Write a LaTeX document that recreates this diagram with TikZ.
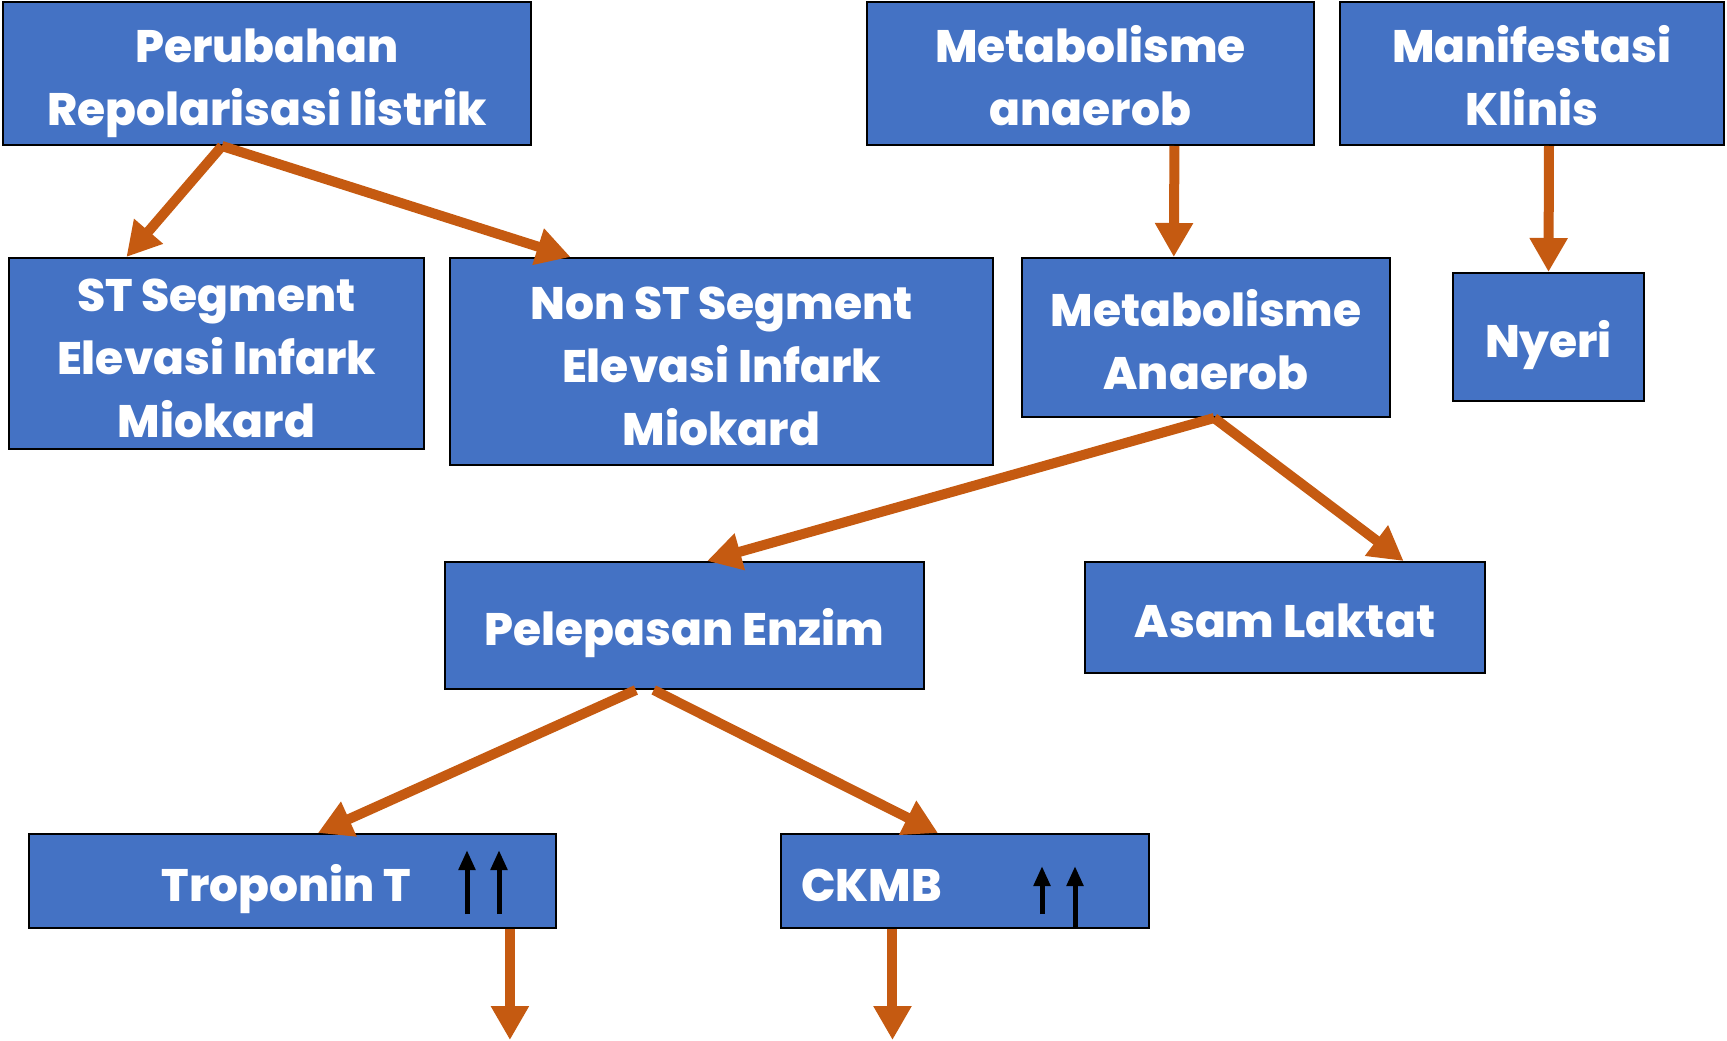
\documentclass[tikz,border=0pt]{standalone}
\usepackage{fontspec}
\setmainfont{Poppins}[BoldFont={Poppins ExtraBold}]
\usetikzlibrary{arrows.meta,calc}
\definecolor{boxblue}{HTML}{4472C4}
\definecolor{arrorange}{HTML}{C55A11}
\newcommand{\boxlines}[1]{\raisebox{-8pt}[\height][\depth]{\begin{tabular}{@{}c@{}}#1\end{tabular}}}
\begin{document}
\begin{tikzpicture}[x=1pt,y=-1pt,
  box/.style={draw=black, line width=2pt, fill=boxblue, text=white,
    font=\bfseries\fontsize{45.5}{63}\selectfont, align=center, inner sep=0pt,
    execute at begin node={\rule{0pt}{55pt}},
    execute at end node={\rule[-15pt]{0pt}{15pt}}},
  flow/.style={draw=arrorange, line width=10pt, -{Triangle[width=36pt,length=34pt]}},
  uparr/.style={draw=black, line width=5pt, -{Triangle[width=16pt,length=20pt]}}]
\useasboundingbox (0,0) rectangle (1727,1041);
\node[box, minimum width=528, minimum height=143] (A) at (267,73.5) {\boxlines{Perubahan\\Repolarisasi listrik}};
\node[box, minimum width=447, minimum height=143] (B) at (1090.5,73.5) {\boxlines{Metabolisme\\anaerob}};
\node[box, minimum width=384, minimum height=143] (C) at (1532,73.5) {\boxlines{Manifestasi\\Klinis}};
\node[box, minimum width=415, minimum height=191] (D) at (216.5,353.5) {\boxlines{ST Segment\\Elevasi Infark\\Miokard}};
\node[box, minimum width=543, minimum height=207] (E) at (721.5,361.5) {\boxlines{Non ST Segment\\Elevasi Infark\\Miokard}};
\node[box, minimum width=368, minimum height=159] (F) at (1206,337.5) {\boxlines{Metabolisme\\Anaerob}};
\node[box, minimum width=191, minimum height=128] (G) at (1548.5,337) {Nyeri};
\node[box, minimum width=479, minimum height=127] (H) at (684.5,625.5) {Pelepasan Enzim};
\node[box, minimum width=400, minimum height=111] (I) at (1285,617.5) {Asam Laktat};
\node[box, minimum width=527, minimum height=94] (J) at (292.5,881) {Troponin T\hspace{12pt}};
\node[box, text width=328, inner xsep=20, minimum height=94, align=left] (K) at (965,881) {CKMB};
\coordinate (Jend) at ($(J.south west)!0.911!(J.south east)+(0,111)$);
\coordinate (Kend) at ($(K.south west)!0.304!(K.south east)+(0,111)$);
\draw[flow] ($(A.south west)!0.415!(A.south east)$) -- ($(D.north west)!0.284!(D.north east)$);
\draw[flow] ($(A.south west)!0.415!(A.south east)$) -- ($(E.north west)!0.223!(E.north east)$);
\draw[flow] ($(B.south west)!0.687!(B.south east)$) -- ($(F.north west)!0.413!(F.north east)$);
\draw[flow] ($(C.south west)!0.544!(C.south east)$) -- (G.north);
\draw[flow] ($(F.south west)!0.522!(F.south east)$) -- ($(H.north west)!0.547!(H.north east)$);
\draw[flow] ($(F.south west)!0.522!(F.south east)$) -- ($(I.north west)!0.795!(I.north east)$);
\draw[flow] ($(H.south west)!0.399!(H.south east)$) -- ($(J.north west)!0.548!(J.north east)$);
\draw[flow] ($(H.south west)!0.436!(H.south east)$) -- ($(K.north west)!0.427!(K.north east)$);
\draw[flow] ($(J.south west)!0.911!(J.south east)$) -- (Jend);
\draw[flow] ($(K.south west)!0.304!(K.south east)$) -- (Kend);
\draw[uparr] (467,914) -- (467,850);
\draw[uparr] (499,914) -- (499,850);
\draw[uparr] (1042,914) -- (1042,866);
\draw[uparr] (1075,928) -- (1075,866);
\end{tikzpicture}
\end{document}
